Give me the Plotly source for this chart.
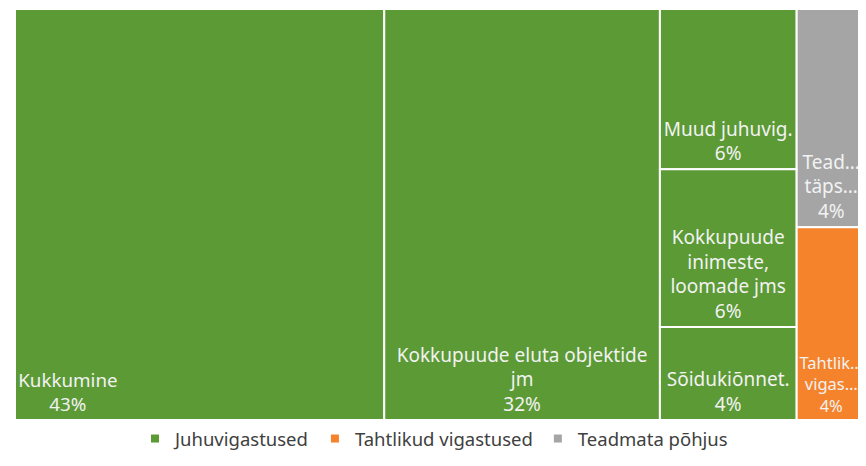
import plotly.graph_objects as go

# ---- data ----
groups = ["Juhuvigastused", "Tahtlikud vigastused", "Teadmata põhjus"]
group_colors = ["#5B9A35", "#F5832B", "#A5A5A5"]

leaf_ids = ["Kukkumine", "Kokkupuude eluta objektide jm", "Muud juhuvig.",
            "Kokkupuude inimeste, loomade jms", "Sõidukiõnnet.",
            "Teadmata põhjus", "Tahtlikud vigastused"]
leaf_parents = ["Juhuvigastused"] * 5 + ["", ""]
leaf_values = [43.0, 32.1, 6.2, 6.1, 3.6, 4.3, 3.8]
leaf_text = ["Kukkumine", "Kokkupuude eluta objektide<br>jm", "Muud juhuvig.",
             "Kokkupuude<br>inimeste,<br>loomade jms", "Sõidukiõnnet.",
             "Tead…<br>täps…", "Tahtlik…<br>vigas…"]
leaf_group = ["Juhuvigastused"] * 5 + ["Teadmata põhjus", "Tahtlikud vigastused"]

# ---- build treemap ----
color_of = dict(zip(groups, group_colors))
ids = ["Juhuvigastused"] + leaf_ids
parents = [""] + leaf_parents
values = [sum(v for v, p in zip(leaf_values, leaf_parents) if p == "Juhuvigastused")] + leaf_values
colors = [color_of["Juhuvigastused"]] + [color_of[g] for g in leaf_group]
custom = [""] + leaf_text

NB = "\u00a0"
base_tpl = "%{customdata}<br>%{value:.0f}%"
# first leaf label sits at the left of its box: pad lines with non-breaking spaces
left_tpl = "%{customdata}" + NB * 54 + "<br>%{value:.0f}%" + NB * 54
templates = [""] + [left_tpl] + [base_tpl] * (len(leaf_ids) - 1)

W, H = 858, 450   # page body adds an 8px offset inside the 866x466 window
OFF = 8
fig = go.Figure()
fig.add_trace(go.Treemap(
    ids=ids, labels=ids, parents=parents, values=values,
    branchvalues="total", sort=True,
    customdata=custom, texttemplate=templates,
    textposition="bottom center",
    textfont=dict(family="Noto Sans", size=19, color="#F2F2F2"),
    marker=dict(colors=colors, line=dict(color="#FFFFFF", width=2),
                pad=dict(t=0, l=0, r=0, b=0)),
    tiling=dict(packing="squarify", squarifyratio=1, pad=0),
    pathbar=dict(visible=False),
    hoverinfo="label+value",
    domain=dict(x=[(15 - OFF) / W, 1], y=[(H - (420 - OFF)) / H, (H - (9 - OFF)) / H]),
))

for g, c in zip(groups, group_colors):
    fig.add_trace(go.Scatter(x=[None], y=[None], mode="markers", name=g,
                             marker=dict(symbol="square", size=8, color=c),
                             showlegend=True))

fig.update_layout(
    width=W, height=H,
    margin=dict(l=0, r=0, t=0, b=0),
    paper_bgcolor="white", plot_bgcolor="white",
    xaxis=dict(visible=False), yaxis=dict(visible=False),
    legend=dict(orientation="h", x=(434 - OFF) / W, xanchor="center",
                y=0, yanchor="bottom",
                font=dict(family="Noto Sans", size=18.5, color="#404040"),
                itemwidth=30, bgcolor="rgba(0,0,0,0)"),
)

fig.write_html("out.html")
